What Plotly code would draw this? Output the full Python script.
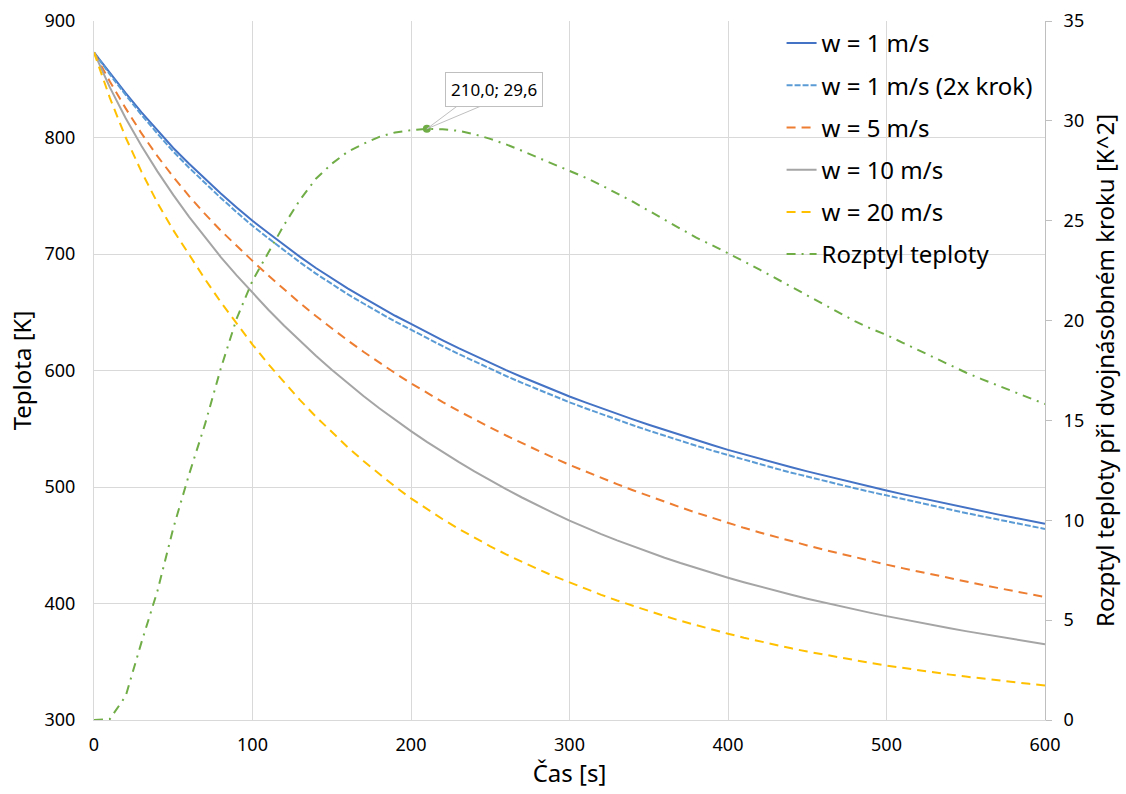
import plotly.graph_objects as go

# time [s]
t_s = list(range(0, 610, 10))

w1 = [873, 855, 838, 821.5, 806, 791, 777.5, 764.5, 752, 740, 728.5, 718, 707.5, 697.5, 688, 679,
      670.5, 662.5, 654.5, 647, 640, 632.8, 625.9, 619.2, 612.7, 606.4, 600.3, 594.4, 588.7, 583.1,
      577.7, 572.6, 567.6, 562.7, 558.0, 553.4, 548.9, 544.5, 540.2, 536.0, 531.9, 528.0, 524.2,
      520.5, 516.9, 513.4, 510.0, 506.7, 503.5, 500.4, 497.0, 493.9, 490.9, 487.9, 485.0, 482.1,
      479.3, 476.5, 473.8, 471.1, 468.4]

w1_2x = [873, 854.2, 836.5, 819.4, 803.4, 788, 774.1, 760.8, 748.1, 735.9, 724.2, 713.5, 702.9,
         692.8, 683.2, 674.1, 665.5, 657.5, 649.5, 642, 635, 627.8, 620.9, 614.2, 607.7, 601.4,
         595.3, 589.4, 583.7, 578.1, 572.7, 567.6, 562.6, 557.7, 553.0, 548.4, 543.9, 539.6, 535.4,
         531.3, 527.3, 523.4, 519.6, 515.9, 512.3, 508.8, 505.4, 502.1, 498.9, 495.8, 492.7, 489.5,
         486.5, 483.5, 480.6, 477.7, 474.9, 472.1, 469.4, 466.7, 464.0]

w5 = [873, 848, 825, 803.5, 784, 766.2, 749.7, 734.4, 720.1, 706.7, 694.1, 681.5, 669.4, 657.8,
      646.7, 636.1, 625.9, 616.1, 606.7, 597.7, 589.0, 580.8, 572.9, 565.3, 558.0, 551.0, 544.2,
      537.6, 531.2, 525.0, 519.0, 513.3, 507.8, 502.45, 497.25, 492.2, 487.3, 482.55, 477.95,
      473.45, 469.05, 464.95, 461.0, 457.15, 453.45, 449.85, 446.35, 442.95, 439.65, 436.45,
      433.35, 430.35, 427.4, 424.5, 421.65, 418.85, 416.1, 413.4, 410.75, 408.15, 405.6]

w10 = [873, 843, 816.5, 792.7, 770.9, 750.7, 731.8, 714.1, 697.4, 681.6, 666.6, 652.2, 638.4,
       625.2, 612.6, 600.6, 589.1, 578.1, 567.6, 557.6, 548.0, 538.8, 530.0, 521.6, 513.5, 505.7,
       498.2, 491.0, 484.1, 477.5, 471.1, 465.2, 459.55, 454.15, 449.0, 444.05, 439.3, 434.75,
       430.4, 426.2, 422.15, 418.25, 414.5, 410.9, 407.45, 404.15, 400.95, 397.85, 394.85, 391.95,
       389.15, 386.43, 383.79, 381.23, 378.73, 376.29, 373.91, 371.59, 369.32, 367.1, 364.93]

w20 = [873, 834, 800, 770.5, 744, 720.5, 699.5, 678.5, 658.7, 640.0, 622.3, 605.5, 589.6, 574.6,
       560.4, 547.0, 534.3, 522.3, 511.0, 500.3, 490.2, 481.0, 472.3, 464.1, 456.4, 449.1, 442.2,
       435.7, 429.5, 423.6, 418.0, 412.6, 407.45, 402.55, 397.9, 393.45, 389.2, 385.15, 381.3,
       377.6, 374.05, 370.65, 367.45, 364.4, 361.5, 358.75, 356.15, 353.65, 351.25, 348.95,
       346.75, 344.65, 342.65, 340.75, 338.95, 337.25, 335.6, 334.0, 332.5, 331.05, 329.65]

rozptyl = [0, 0.05, 1.2, 3.9, 6.45, 9.6, 12.3, 14.8, 17.6, 20.1, 22.0, 23.4, 24.8, 26.05, 27.1,
           27.85, 28.45, 28.85, 29.2, 29.42, 29.53, 29.6, 29.58, 29.5, 29.33, 29.1, 28.82, 28.5,
           28.17, 27.85, 27.52, 27.16, 26.78, 26.38, 25.95, 25.5, 25.04, 24.57, 24.15, 23.77, 23.39,
           22.97, 22.55, 22.12, 21.68, 21.24, 20.8, 20.37, 19.97, 19.6, 19.28, 18.9, 18.52, 18.14,
           17.76, 17.4, 17.07, 16.75, 16.43, 16.12, 15.82]

names = ["w = 1 m/s", "w = 1 m/s (2x krok)", "w = 5 m/s", "w = 10 m/s", "w = 20 m/s", "Rozptyl teploty"]

FONT = "Noto Sans"
GRID = "#d9d9d9"

fig = go.Figure()
styles = [
    (w1, "#4472C4", "solid"),
    (w1_2x, "#5B9BD5", "6px,2px"),
    (w5, "#ED7D31", "9px,6px"),
    (w10, "#A5A5A5", "solid"),
    (w20, "#FFC000", "9px,6px"),
]
for i, (ys, col, dash) in enumerate(styles):
    fig.add_trace(go.Scatter(x=t_s, y=ys, name=names[i], mode="lines", legendgroup=f"g{i}",
                             line=dict(color=col, width=2, dash=dash)))
fig.add_trace(go.Scatter(x=t_s, y=rozptyl, name=names[5], mode="lines", yaxis="y2", legendgroup="g5",
                         line=dict(color="#70AD47", width=2, dash="9px,6px,2px,6px")))

# peak point
imax = max(range(len(rozptyl)), key=lambda k: rozptyl[k])
px, py = t_s[imax], rozptyl[imax]
fig.add_trace(go.Scatter(x=[px], y=[py], yaxis="y2", mode="markers", showlegend=False,
                         marker=dict(color="#70AD47", size=8)))
label = f"{px:.1f}; {py:.1f}".replace(".", ",")
for axo in (32, 57):
    fig.add_annotation(x=px, y=py, xref="x", yref="y2", text="", showarrow=True,
                       ax=axo, ay=-24, arrowhead=0, arrowwidth=1, arrowcolor="#bfbfbf", standoff=0)
fig.add_annotation(x=px, y=py, xref="x", yref="y2", text=label, showarrow=False,
                   xshift=67, yshift=39, font=dict(family=FONT, size=17, color="#000"),
                   bgcolor="white", bordercolor="#bfbfbf", borderwidth=1, borderpad=5)

fig.update_layout(
    template="none",
    width=1126, height=794,
    margin=dict(l=94, r=81, t=21, b=74),
    paper_bgcolor="white", plot_bgcolor="white",
    font=dict(family=FONT, size=18, color="#000"),
    showlegend=True,
    legend=dict(x=0.723, y=1.0, xanchor="left", yanchor="top", bgcolor="rgba(0,0,0,0)",
                font=dict(family=FONT, size=24, color="#000"), traceorder="grouped",
                tracegroupgap=8, itemwidth=30),
    xaxis=dict(range=[0, 600], dtick=100, showgrid=True, gridcolor=GRID, gridwidth=1,
               zeroline=False, showline=True, linecolor=GRID, ticks="", ticklabelstandoff=8,
               title=dict(text="Čas [s]", font=dict(size=24), standoff=4)),
    yaxis=dict(range=[300, 900], dtick=100, showgrid=True, gridcolor=GRID, gridwidth=1,
               zeroline=False, showline=True, linecolor=GRID, ticks="", ticklabelstandoff=14,
               title=dict(text="Teplota [K]", font=dict(size=24), standoff=6)),
    yaxis2=dict(range=[0, 35], dtick=5, overlaying="y", side="right", showgrid=False,
                zeroline=False, showline=True, linecolor="#bfbfbf", ticks="outside", ticklen=6,
                tickcolor="#bfbfbf", ticklabelstandoff=8,
                title=dict(text="Rozptyl teploty při dvojnásobném kroku [K^2]", font=dict(size=24),
                           standoff=14)),
)

fig.write_html("out.html")
